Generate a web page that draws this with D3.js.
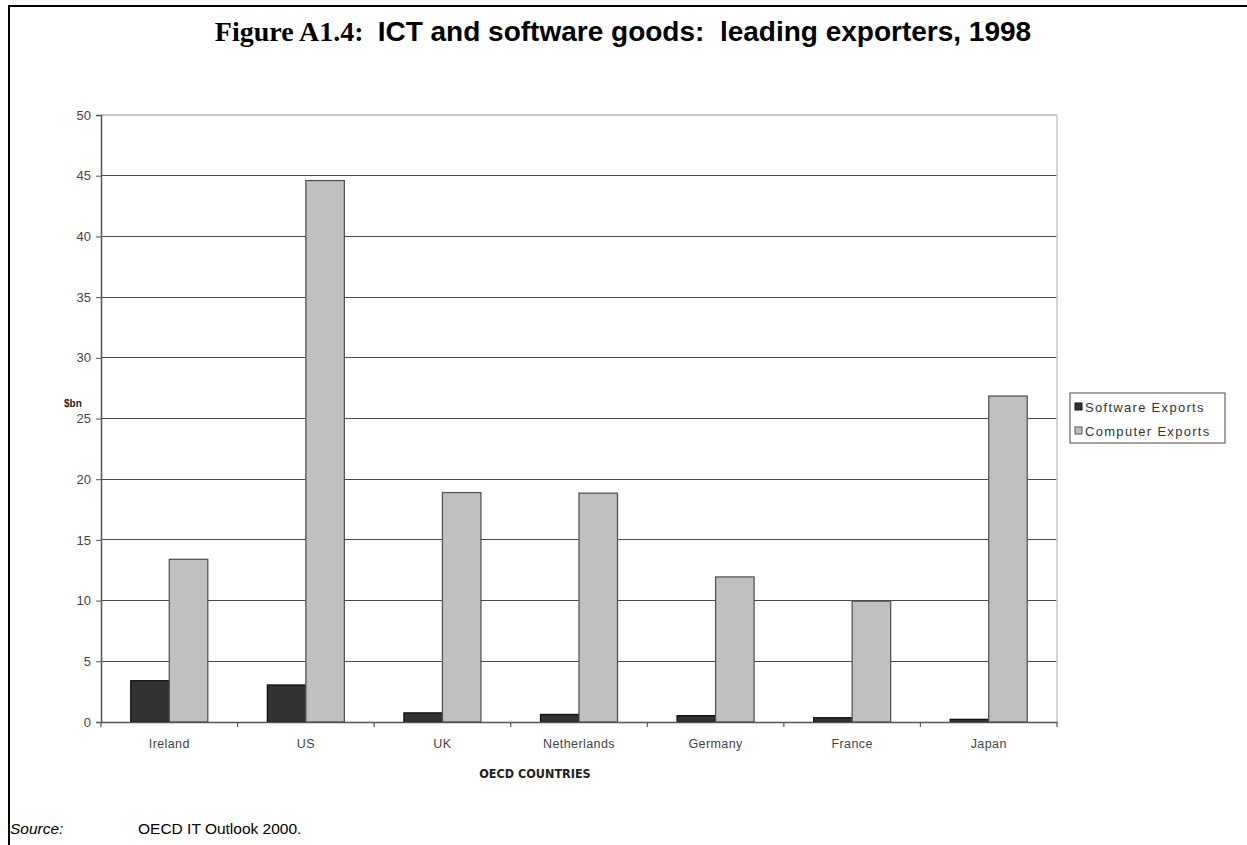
<!DOCTYPE html>
<html>
<head>
<meta charset="utf-8">
<script src="https://cdn.jsdelivr.net/npm/d3@7"></script>
<style>
  html, body { margin: 0; padding: 0; background: #fff; }
  svg { display: block; }
  text { white-space: pre; }
</style>
</head>
<body>
<svg id="chart" width="1247" height="845"></svg>
<script>
// Exports in $bn, 1998
const countries = ["Ireland", "US", "UK", "Netherlands", "Germany", "France", "Japan"];
const seriesNames = ["Software Exports", "Computer Exports"];
const softwareExports = [3.4, 3.05, 0.75, 0.62, 0.52, 0.35, 0.22];
const computerExports = [13.4, 44.6, 18.9, 18.85, 11.95, 9.95, 26.85];
const yTicks = [0, 5, 10, 15, 20, 25, 30, 35, 40, 45, 50];
const seriesFill = ["#333333", "#c0c0c0"];
const seriesStroke = ["#111111", "#555555"];

const svg = d3.select("#chart");
const W = 1247, H = 845;
const plot = { left: 101, right: 1057, top: 115, bottom: 722 };
const sans = "'Liberation Sans', Arial, sans-serif";

// page frame
svg.append("line").attr("x1", 9).attr("x2", W).attr("y1", 6).attr("y2", 6)
  .attr("stroke", "#000").attr("stroke-width", 2);
svg.append("line").attr("x1", 9).attr("x2", 9).attr("y1", 5).attr("y2", H)
  .attr("stroke", "#000").attr("stroke-width", 2);

// title
const title = svg.append("text")
  .attr("x", 623).attr("y", 41)
  .attr("text-anchor", "middle")
  .attr("font-weight", "bold")
  .attr("font-size", 28)
  .attr("fill", "#000");
title.append("tspan").attr("font-family", "'Liberation Serif', 'Times New Roman', serif").text("Figure A1.4:  ");
title.append("tspan").attr("font-family", sans).text("ICT and software goods:  leading exporters, 1998");

const x = d3.scaleBand().domain(countries).range([plot.left, plot.right]).paddingInner(0).paddingOuter(0);
const bw = x.bandwidth();
const xSub = d3.scaleBand().domain(seriesNames).range([bw / 2 - 38.5, bw / 2 + 38.5]).padding(0);
const y = d3.scaleLinear().domain([0, 50]).range([plot.bottom, plot.top]);

// gridlines
svg.append("g").selectAll("line").data(yTicks.filter(d => d > 0)).join("line")
  .attr("x1", plot.left).attr("x2", plot.right)
  .attr("y1", d => y(d)).attr("y2", d => y(d))
  .attr("stroke", d => d === 50 ? "#c8c8c8" : "#4a4a4a")
  .attr("stroke-width", d => d === 50 ? 1.5 : 1)
  .attr("shape-rendering", "crispEdges");

// right border of plot area
svg.append("line").attr("x1", plot.right).attr("x2", plot.right)
  .attr("y1", plot.top).attr("y2", plot.bottom)
  .attr("stroke", "#c8c8c8").attr("stroke-width", 1.5);

// bars
const rows = countries.map((c, i) => ({ country: c, values: [softwareExports[i], computerExports[i]] }));
const groups = svg.append("g").selectAll("g").data(rows).join("g")
  .attr("transform", d => `translate(${x(d.country)},0)`);
groups.selectAll("rect").data(d => d.values.map((v, k) => ({ v, k }))).join("rect")
  .attr("x", d => xSub(seriesNames[d.k]))
  .attr("width", xSub.bandwidth())
  .attr("y", d => y(d.v))
  .attr("height", d => y(0) - y(d.v))
  .attr("fill", d => seriesFill[d.k])
  .attr("stroke", d => seriesStroke[d.k])
  .attr("stroke-width", 1.3);

// y axis
const yAxis = svg.append("g").attr("transform", `translate(${plot.left},0)`)
  .call(d3.axisLeft(y).tickValues(yTicks).tickSize(5).tickPadding(5));
yAxis.select(".domain").attr("stroke", "#555").attr("stroke-width", 1.5);
yAxis.selectAll(".tick line").attr("stroke", "#555");
yAxis.selectAll(".tick text")
  .attr("font-family", sans)
  .attr("font-size", 13).attr("fill", "#444");

// x axis
const xAxis = svg.append("g").attr("transform", `translate(0,${plot.bottom})`)
  .call(d3.axisBottom(x).tickSize(0).tickPadding(17));
xAxis.select(".domain").attr("stroke", "#555").attr("stroke-width", 1.5);
xAxis.selectAll(".tick text")
  .attr("font-family", sans)
  .attr("font-size", 12.5).attr("letter-spacing", 0.4).attr("fill", "#444");
// category separators below the axis
const bounds = countries.map(c => x(c)).concat([plot.right]);
svg.append("g").selectAll("line").data(bounds).join("line")
  .attr("x1", d => d).attr("x2", d => d)
  .attr("y1", plot.bottom).attr("y2", plot.bottom + 5)
  .attr("stroke", "#555").attr("stroke-width", 1.2);

// axis titles
svg.append("text").attr("x", 64).attr("y", 407)
  .attr("font-family", sans)
  .attr("font-size", 10).attr("font-weight", "bold").attr("fill", "#222")
  .text("$bn");
svg.append("text").attr("x", 535).attr("y", 778).attr("text-anchor", "middle")
  .attr("font-family", "'Liberation Sans Narrow', 'DejaVu Sans Condensed', Arial, sans-serif")
  .attr("font-size", 12.5).attr("font-weight", "bold").attr("fill", "#222")
  .text("OECD COUNTRIES");

// legend
const lg = svg.append("g").attr("transform", "translate(1070,393)");
lg.append("rect").attr("width", 155).attr("height", 50)
  .attr("fill", "#fff").attr("stroke", "#666").attr("stroke-width", 1.2);
seriesNames.forEach((name, k) => {
  const row = lg.append("g").attr("transform", `translate(5,${15 + k * 24})`);
  row.append("rect").attr("x", 0).attr("y", -5).attr("width", 7).attr("height", 7)
    .attr("fill", seriesFill[k]).attr("stroke", seriesStroke[k]).attr("stroke-width", 1);
  row.append("text").attr("x", 10).attr("y", 4)
    .attr("font-family", sans)
    .attr("font-size", 13).attr("letter-spacing", 1.3).attr("fill", "#333").text(name);
});

// source note
const src = svg.append("text").attr("x", 10).attr("y", 834)
  .attr("font-family", sans)
  .attr("font-size", 15.5).attr("fill", "#000");
src.append("tspan").attr("font-style", "italic").text("Source:");
src.append("tspan").attr("x", 138).text("OECD IT Outlook 2000.");
</script>
</body>
</html>
